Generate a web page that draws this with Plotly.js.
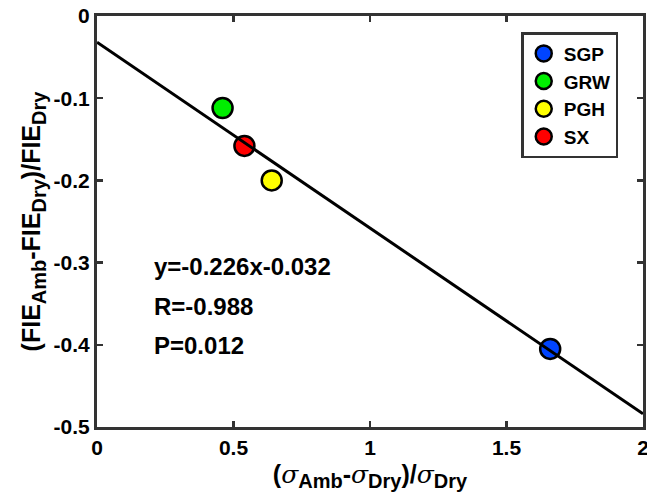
<!DOCTYPE html>
<html><head><meta charset="utf-8">
<script src="https://cdn.plot.ly/plotly-3.0.1.min.js"></script>
<style>body{margin:0;background:#fff}#c{width:647px;height:504px}</style>
</head><body><div id="c"></div>
<script>
const sites = ["SGP", "GRW", "PGH", "SX"];
const xVals = [1.66, 0.46, 0.64, 0.54];
const yVals = [-0.405, -0.112, -0.200, -0.158];
const colors = ["#0044ff", "#00ee00", "#ffff00", "#ff0000"];
const fitSlope = -0.226;
const fitIntercept = -0.032;
const fitX = [0, 2];
const statTexts = ["y=-0.226x-0.032", "R=-0.988", "P=0.012"];
const statY = [-0.305, -0.353, -0.401];
const xTicks = [0, 0.5, 1, 1.5, 2];
const yTicks = [0, -0.1, -0.2, -0.3, -0.4, -0.5];

const b = s => "<b>" + s + "</b>";
const sub = s => "<sub><span style='font-size:20px'>" + s + "</span></sub>";
const sig = "<span style='font-family:\"DejaVu Serif\",serif;font-style:italic;font-weight:normal'>σ</span>";

const traces = sites.map((s, i) => ({
  x: [xVals[i]], y: [yVals[i]], name: b(s), type: "scatter", mode: "markers",
  marker: {size: 20, color: colors[i], line: {color: "#000", width: 2.5}}
}));
traces.push({
  x: fitX, y: fitX.map(v => fitSlope * v + fitIntercept), mode: "lines",
  line: {color: "#000", width: 3}, showlegend: false, hoverinfo: "skip"
});

const fam = "Arial, 'Liberation Sans', sans-serif";
const layout = {
  width: 647, height: 504,
  margin: {l: 97, r: 4, t: 16, b: 77},
  paper_bgcolor: "#fff", plot_bgcolor: "#fff",
  font: {family: fam, size: 16, color: "#000"},
  showlegend: true,
  legend: {
    x: 0.777, y: 0.961, xanchor: "left", yanchor: "top",
    bgcolor: "#fff", bordercolor: "#333", borderwidth: 2.5,
    font: {family: fam, size: 19, color: "#000"},
    itemsizing: "trace", tracegroupgap: 0, itemwidth: 30
  },
  xaxis: {
    range: [0, 2], tickmode: "array", tickvals: xTicks, ticktext: xTicks.map(v => b(String(v))),
    ticklabeloverflow: "allow",
    showgrid: false, zeroline: false, showline: true, mirror: "ticks",
    linecolor: "#333", linewidth: 3, ticks: "inside", ticklen: 6, tickwidth: 2.5, tickcolor: "#333",
    tickfont: {family: fam, size: 21, color: "#000", weight: "bold"},
    title: {text: b("(" + sig + sub("Amb") + "-" + sig + sub("Dry") + ")/" + sig + sub("Dry")),
      font: {family: fam, size: 25, color: "#000"}, standoff: 8}
  },
  yaxis: {
    range: [-0.5, 0], tickmode: "array", tickvals: yTicks, ticktext: yTicks.map(v => b(String(v))),
    ticklabeloverflow: "allow",
    showgrid: false, zeroline: false, showline: true, mirror: "ticks",
    linecolor: "#333", linewidth: 3, ticks: "inside", ticklen: 6, tickwidth: 2.5, tickcolor: "#333",
    tickfont: {family: fam, size: 21, color: "#000", weight: "bold"},
    title: {text: b("(FIE" + sub("Amb") + "-FIE" + sub("Dry") + ")/FIE" + sub("Dry")),
      font: {family: fam, size: 25, color: "#000"}, standoff: 6}
  },
  annotations: statTexts.map((t, i) => ({
    x: 0.2, y: statY[i], xref: "x", yref: "y", text: b(t), showarrow: false,
    xanchor: "left", yanchor: "middle",
    font: {family: fam, size: 24, color: "#000"}
  }))
};
Plotly.newPlot("c", traces, layout, {displayModeBar: false, staticPlot: true});
</script></body></html>
